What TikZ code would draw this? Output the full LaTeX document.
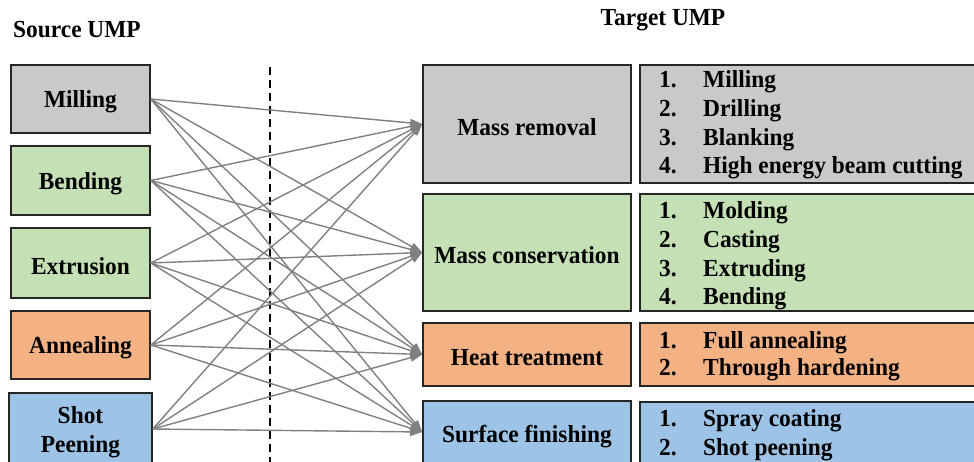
\documentclass[tikz,border=0pt]{standalone}
\usepackage{fontspec}
\setmainfont{Liberation Serif}[FakeStretch=0.955]
\usetikzlibrary{arrows.meta}

\definecolor{boxgray}{RGB}{201,201,201}
\definecolor{boxgreen}{RGB}{197,224,180}
\definecolor{boxorange}{RGB}{244,177,131}
\definecolor{boxblue}{RGB}{157,195,230}
\definecolor{linkgray}{RGB}{128,128,128}
\definecolor{rimcol}{RGB}{38,38,38}

% set a label a little below the box centre without changing its size
\newcommand\lowertxt[1]{\raisebox{-3pt}[\height][\depth]{#1}}

\tikzset{
  umpbox/.style={draw=rimcol, line width=1.6pt, inner sep=0pt, align=center,
    font=\fontsize{24.5}{29}\selectfont\bfseries},
  srcbox/.style={umpbox, minimum width=139pt},
  tgtbox/.style={umpbox, minimum width=208pt},
  listbox/.style={draw=rimcol, line width=1.6pt},
  itemtext/.style={anchor=base west, inner sep=0pt,
    font=\fontsize{24.5}{29}\selectfont\bfseries},
  title/.style={font=\fontsize{24.5}{29}\selectfont\bfseries, inner sep=0pt},
  link/.style={draw=linkgray, line width=1.4pt,
    -{Triangle[length=12pt,width=8pt]}},
  divider/.style={line width=1.4pt, dash pattern=on 8pt off 5pt}
}

\begin{document}
\begin{tikzpicture}[x=1pt, y=-1pt]
\useasboundingbox (0,0) rectangle (974,461);
\clip (0,0) rectangle (974,461);

% titles
\node[title] (srctitle) at (77,30) {Source UMP};
\node[title] (tgttitle) at (663,20) {Target UMP};

% divider between source and target sides
\coordinate (divtop) at (270,67);
\coordinate (divbot) at (270,470);
\draw[divider] (divtop) -- (divbot);

% source UMP boxes
\node[srcbox, fill=boxgray,   minimum height=68pt] (mil) at (80.5,99)    {\lowertxt{Milling}};
\node[srcbox, fill=boxgreen,  minimum height=69pt] (ben) at (80.5,180.5) {\lowertxt{Bending}};
\node[srcbox, fill=boxgreen,  minimum height=70pt] (ext) at (80.5,263)   {\lowertxt{Extrusion}};
\node[srcbox, fill=boxorange, minimum height=68pt] (ann) at (80.5,345)   {\lowertxt{Annealing}};
\node[srcbox, fill=boxblue,   minimum height=72pt, minimum width=143pt] (sho) at (80.5,429)
  {\lowertxt{Shot}\\\lowertxt{Peening}};

% target UMP category boxes
\node[tgtbox, fill=boxgray,   minimum height=118pt] (mr) at (527,124)   {\lowertxt{Mass removal}};
\node[tgtbox, fill=boxgreen,  minimum height=117pt] (mc) at (527,252.5) {\lowertxt{Mass conservation}};
\node[tgtbox, fill=boxorange, minimum height=63pt]  (ht) at (527,354.5) {\lowertxt{Heat treatment}};
\node[tgtbox, fill=boxblue,   minimum height=62pt]  (sf) at (527,432)   {\raisebox{-5pt}[\height][\depth]{Surface finishing}};

% process lists beside each category
\draw[listbox, fill=boxgray]   (640,65)  rectangle (995,183);
\draw[listbox, fill=boxgreen]  (640,194) rectangle (995,311);
\draw[listbox, fill=boxorange] (640,323) rectangle (995,386);
\draw[listbox, fill=boxblue]   (640,402) rectangle (995,480);

\foreach \n/\y/\txt in {1/87/Milling, 2/116/Drilling, 3/145/Blanking,
    4/173/High energy beam cutting,
    1/218/Molding, 2/247/Casting, 3/276/Extruding, 4/304/Bending,
    1/348/Full annealing, 2/375/Through hardening,
    1/426/Spray coating, 2/455/Shot peening}{
  \node[itemtext] (num-\n-\y) at (659,\y) {\n.};
  \node[itemtext] (item-\n-\y) at (703,\y) {\txt};
}

% every source process maps onto every target category
\foreach \s in {mil,ben,ext,ann,sho}
  \foreach \t in {mr,mc,ht,sf}
    \draw[link] (\s.east) -- (\t.west);
\end{tikzpicture}
\end{document}
